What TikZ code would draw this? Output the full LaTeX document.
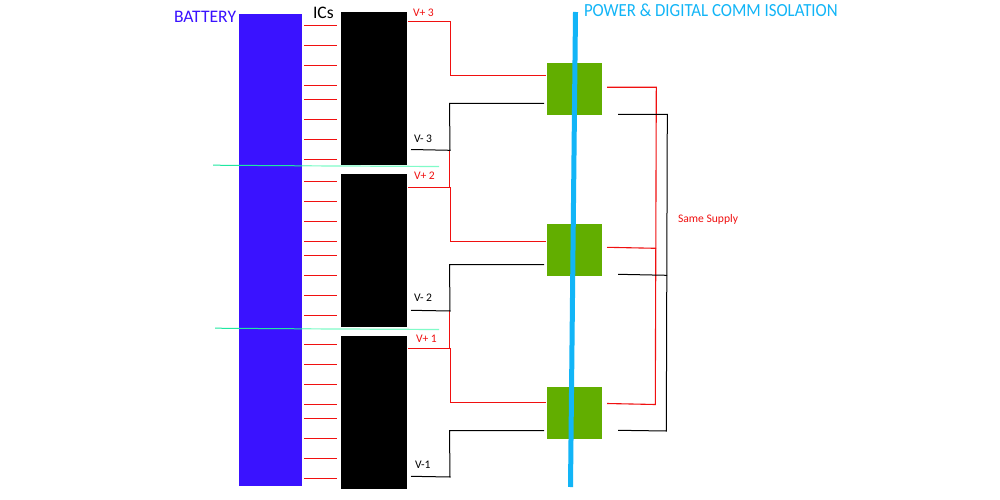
\documentclass[tikz,border=0pt]{standalone}
\usepackage{fontspec}
\setmainfont{Carlito}
\newfontfamily\narrowfont[FakeStretch=0.91]{Carlito}
\definecolor{batblue}{HTML}{3A12FF}
\definecolor{isogreen}{HTML}{62AE00}
\definecolor{isoblue}{HTML}{12B5F7}
\definecolor{sepgreen}{HTML}{1FE8A0}
\definecolor{seplight}{HTML}{80FBC8}
\definecolor{wirered}{HTML}{F01010}
\tikzset{
  block/.style={rectangle,draw=none,inner sep=0pt,outer sep=0pt},
  redwire/.style={draw=wirered,line width=1.1pt,line join=miter},
  blackwire/.style={draw=black,line width=1pt,line join=miter},
  lab/.style={inner sep=0pt,outer sep=0pt,anchor=west},
  vlab/.style={lab,font=\fontsize{11.6}{11.6}\selectfont},
}
\begin{document}
\begin{tikzpicture}[x=1pt,y=-1pt]
\useasboundingbox (0,0) rectangle (1000,500);
\fill[white] (0,0) rectangle (1000,500);
% battery and ICs
\node[block,fill=batblue,minimum width=63pt,minimum height=472pt] (bat) at (270.5,250) {};
\node[block,fill=black,minimum width=66pt,minimum height=153pt] (ic3) at (374,88.5) {};
\node[block,fill=black,minimum width=66pt,minimum height=153pt] (ic2) at (374,250.5) {};
\node[block,fill=black,minimum width=66pt,minimum height=153pt] (ic1) at (374,412.5) {};
% isolators
\node[block,fill=isogreen,minimum width=55pt,minimum height=52pt] (iso3) at (574.5,89) {};
\node[block,fill=isogreen,minimum width=55pt,minimum height=52pt] (iso2) at (574.5,250) {};
\node[block,fill=isogreen,minimum width=55pt,minimum height=52pt] (iso1) at (574.5,413) {};
% cell taps
\foreach \y in {25,45,65,85,99,119,139,159,181,201,221,241,255,275,295,315,344,364,384,404,418,438,458,478}
  \draw[redwire] (304,\y+.5) -- (337,\y+.5);
% isolation barrier
\coordinate (bartop) at (575.5,12);
\coordinate (barbot) at (570.5,487);
\draw[isoblue,line width=5pt] (bartop) -- (barbot);
% separators
\coordinate (s2a) at (213,165.2); \coordinate (s2m) at (302,165.8); \coordinate (s2b) at (439,166.5);
\coordinate (s1a) at (215,328.2); \coordinate (s1m) at (302,328.8); \coordinate (s1b) at (439,329.5);
\draw[sepgreen,line width=1pt] (s2a) -- (s2m);
\draw[seplight,line width=1.2pt] (s2m) -- (s2b);
\draw[sepgreen,line width=1pt] (s1a) -- (s1m);
\draw[seplight,line width=1.2pt] (s1m) -- (s1b);
% V+ wires
\coordinate (p3a) at (408,21.3); \coordinate (p3b) at (546,75.3);
\coordinate (p2a) at (408,187.3); \coordinate (p2b) at (546,241.3);
\coordinate (p1a) at (408,348.3); \coordinate (p1b) at (546,402.3);
\draw[redwire] (p3a) -- (450.3,21.3) -- (450.3,75.3) -- (p3b);
\draw[redwire] (p2a) -- (450.3,187.3) -- (450.3,241.3) -- (p2b);
\draw[redwire] (p1a) -- (450.3,348.3) -- (450.3,402.3) -- (p1b);
% V- to next V+ links
\draw[redwire] (449.5,150.3) -- (449.5,187.3);
\draw[redwire] (449.5,311) -- (449.5,348.3);
% V- wires
\coordinate (n3a) at (411,149.5); \coordinate (n3b) at (544,103.3);
\coordinate (n2a) at (411,310.3); \coordinate (n2b) at (544,264.5);
\coordinate (n1a) at (411,476.3); \coordinate (n1b) at (544,430.5);
\draw[blackwire] (n3a) -- (450,150.3) -- (449.5,103.3) -- (n3b);
\draw[blackwire] (n2a) -- (450,311) -- (449.5,264.5) -- (n2b);
\draw[blackwire] (n1a) -- (450,477) -- (449.5,430.5) -- (n1b);
% common supply
\coordinate (r3) at (607,87.3); \coordinate (r2) at (607,247.3); \coordinate (r1) at (607,403.5);
\coordinate (k3) at (618,114.5); \coordinate (k2) at (618,274.3); \coordinate (k1) at (618,430.3);
\draw[redwire] (r3) -- (656.3,87.3) -- (655.3,404.5) -- (r1);
\draw[redwire] (r2) -- (656,248.3);
\draw[blackwire] (k3) -- (667.3,114.5) -- (666.3,431) -- (k1);
\draw[blackwire] (k2) -- (667,275.3);
% labels
\node[lab,text=batblue,font=\fontsize{17.6}{17.6}\selectfont] (tbat) at (174,16.5) {BATTERY};
\node[lab,text=black,font=\fontsize{17.6}{17.6}\selectfont] (tics) at (313,12.5) {ICs};
\node[lab,text=isoblue,font=\narrowfont\fontsize{18.5}{18.5}\selectfont] (tiso) at (584,10) {POWER \& DIGITAL COMM ISOLATION};
\node[vlab,text=wirered] (tp3) at (413,13) {V+ 3};
\node[vlab,text=black] (tn3) at (414,139) {V- 3};
\node[vlab,text=wirered] (tp2) at (414,176) {V+ 2};
\node[vlab,text=black] (tn2) at (414,298) {V- 2};
\node[vlab,text=wirered] (tp1) at (416,338.5) {V+ 1};
\node[vlab,text=black] (tn1) at (415,465) {V-1};
\node[vlab,text=wirered] (tsame) at (678,219) {Same Supply};
\end{tikzpicture}
\end{document}
